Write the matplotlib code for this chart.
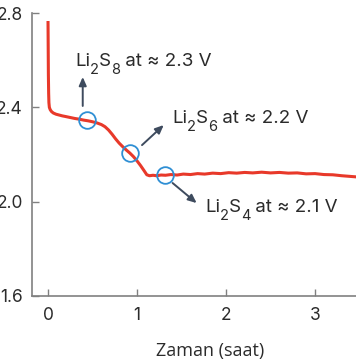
import matplotlib
matplotlib.use('Agg')
import matplotlib.pyplot as plt

# discharge curve (hours, volts)
time_h = [0.000, 0.002, 0.004, 0.007, 0.010, 0.015, 0.025, 0.040, 0.060, 0.090,
          0.12, 0.16, 0.20, 0.25, 0.30, 0.35, 0.40, 0.45, 0.50, 0.55,
          0.60, 0.64, 0.68, 0.72, 0.76, 0.80, 0.84, 0.88, 0.92, 0.96,
          1.00, 1.04, 1.08, 1.11, 1.14, 1.18, 1.22, 1.27, 1.32, 1.38,
          1.45, 1.52, 1.60, 1.68, 1.76, 1.85, 1.94, 2.03, 2.12, 2.21,
          2.30, 2.40, 2.50, 2.60, 2.70, 2.80, 2.90, 3.00, 3.10, 3.20,
          3.30, 3.40, 3.50, 3.60, 3.70, 3.82]
voltage = [2.760, 2.650, 2.540, 2.460, 2.420, 2.400, 2.390, 2.382, 2.376, 2.371,
           2.368, 2.364, 2.361, 2.357, 2.353, 2.350, 2.346, 2.343, 2.339, 2.334,
           2.327, 2.318, 2.304, 2.286, 2.266, 2.248, 2.233, 2.219, 2.206, 2.191,
           2.173, 2.153, 2.131, 2.114, 2.110, 2.112, 2.110, 2.113, 2.112, 2.115,
           2.113, 2.117, 2.115, 2.119, 2.117, 2.121, 2.119, 2.123, 2.121, 2.124,
           2.122, 2.125, 2.122, 2.124, 2.121, 2.122, 2.118, 2.119, 2.115, 2.114,
           2.110, 2.107, 2.104, 2.103, 2.100, 2.098]

# marked plateaus
mark_t = [0.44, 0.92, 1.31]
mark_v = [2.346, 2.206, 2.113]
# label pieces: (text, is_subscript)
labels = [[('Li', False), ('2', True), ('S', False), ('8', True), (' at ≈ 2.3 V', False)],
          [('Li', False), ('2', True), ('S', False), ('6', True), (' at ≈ 2.2 V', False)],
          [('Li', False), ('2', True), ('S', False), ('4', True), (' at ≈ 2.1 V', False)]]
# (arrow tail, arrow head, text baseline start) in data units
arrows = [((0.39, 2.406), (0.39, 2.529), (0.303, 2.577)),
          ((1.056, 2.240), (1.30, 2.325), (1.393, 2.334)),
          ((1.40, 2.079), (1.67, 1.994), (1.764, 1.956))]

xticks = [0, 1, 2, 3]
yticks = [1.6, 2.0, 2.4, 2.8]

RED, BLUE, ARROW, AXIS, INK = '#e8392a', '#2f8fd4', '#3e4b5e', '#808080', '#2b2b2b'
MAIN_SIZE, SUB_SIZE, SUB_DROP = 13.5, 10.5, -5.0

plt.rcParams['font.family'] = ['Inter', 'DejaVu Sans']


def chem_label(ax, x, y, parts):
    """Chain text pieces so subscripts sit below the main baseline."""
    base = ax.text(x, y, parts[0][0], fontsize=MAIN_SIZE, color=INK,
                   va='baseline', ha='left')
    prev = base
    for s, sub in parts[1:]:
        t = ax.annotate(s, xy=(1, 0), xycoords=(prev, base),
                        xytext=(0, SUB_DROP if sub else 0), textcoords='offset points',
                        fontsize=SUB_SIZE if sub else MAIN_SIZE, color=INK,
                        va='bottom', ha='left')
        prev = t


fig = plt.figure(figsize=(3.56, 3.64), dpi=100)
ax = fig.add_axes([0.0899, 0.187, 1.0, 0.777])

ax.plot(time_h, voltage, color=RED, linewidth=2.2, zorder=2)
ax.plot(mark_t, mark_v, linestyle='none', marker='o', markersize=12,
        markerfacecolor='none', markeredgecolor=BLUE, markeredgewidth=1.3, zorder=3)

for (tail, head, txt), parts in zip(arrows, labels):
    ax.annotate('', xy=head, xytext=tail,
                arrowprops=dict(arrowstyle='-|>,head_length=0.5,head_width=0.22',
                                color=ARROW, linewidth=1.4, shrinkA=0, shrinkB=0))
    chem_label(ax, txt[0], txt[1], parts)

ax.set_xlim(-0.18, 3.82)
ax.set_ylim(1.6, 2.8)
ax.set_xticks(xticks)
ax.set_yticks(yticks)
ax.set_xticklabels([str(t) for t in xticks])
ax.set_yticklabels(['%.1f' % v for v in yticks])
ax.tick_params(direction='in', length=5, width=1, color=AXIS, labelcolor=INK,
               labelsize=12.5)
ax.tick_params(axis='y', pad=6.5)
ax.tick_params(axis='x', pad=8)
for side in ('top', 'right'):
    ax.spines[side].set_visible(False)
for side in ('left', 'bottom'):
    ax.spines[side].set_color(AXIS)
    ax.spines[side].set_linewidth(1.2)

ax.set_xlabel('Zaman (saat)', fontsize=13, color=INK, family=['Open Sans', 'DejaVu Sans'],
              labelpad=13)

fig.savefig('out.png', dpi=100)
